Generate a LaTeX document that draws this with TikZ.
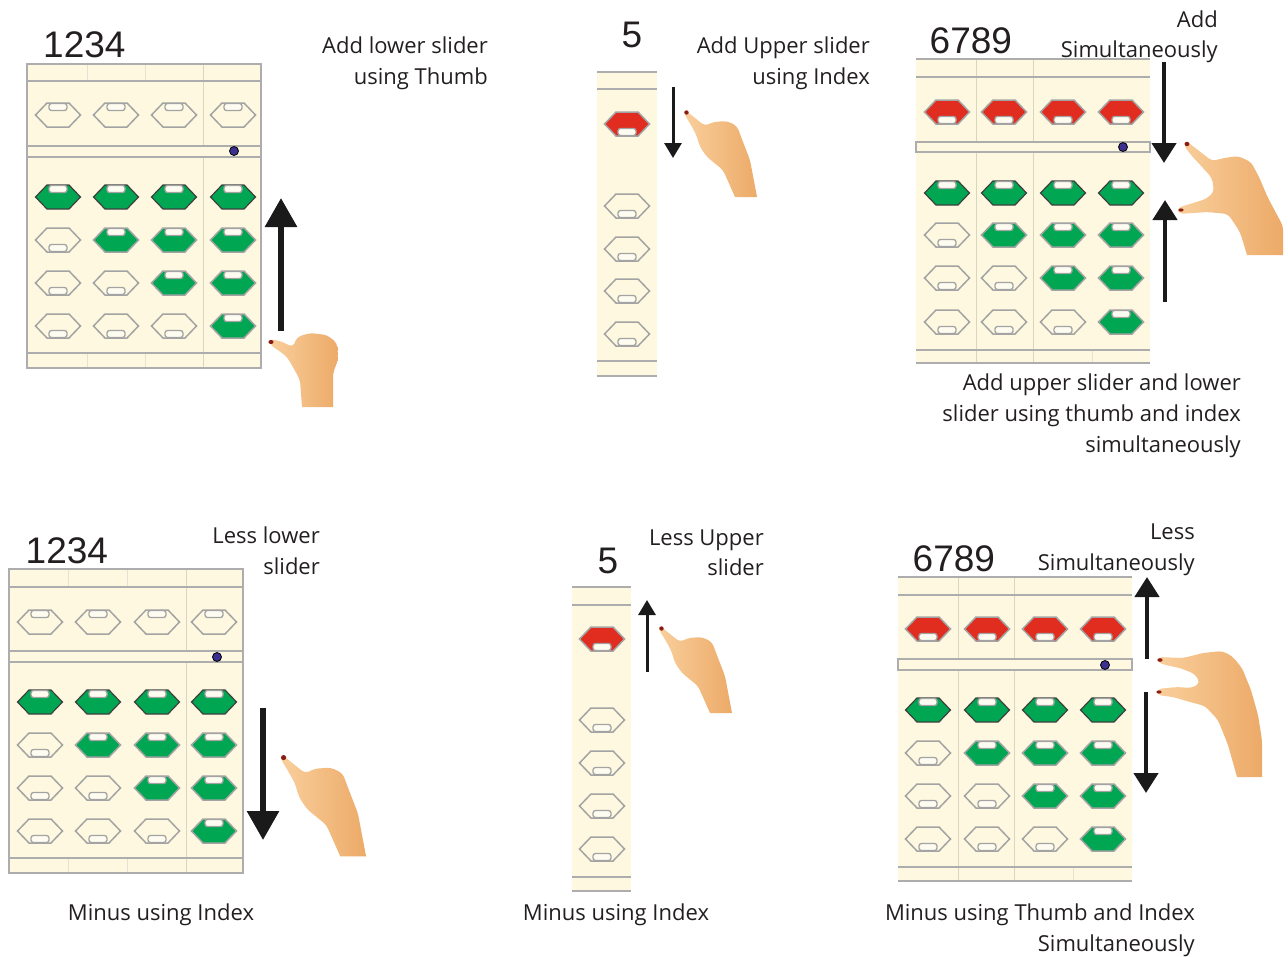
\documentclass[tikz,border=0pt]{standalone}
\usepackage{fontspec}
\setmainfont{Open Sans}
\newfontfamily\numfont{Liberation Sans}
\usetikzlibrary{arrows.meta}

\definecolor{creamc}{HTML}{FDF8DF}
\definecolor{framec}{HTML}{ADADAD}
\definecolor{divc}{HTML}{D9D6C0}
\definecolor{beadc}{HTML}{A3A3A3}
\definecolor{abgreen}{HTML}{00A651}
\definecolor{abred}{HTML}{E02D1F}
\definecolor{dotc}{HTML}{3B2F8F}
\definecolor{arrowc}{HTML}{1A1A1A}
\definecolor{skinL}{HTML}{F9CF9C}
\definecolor{skinR}{HTML}{ECAA68}
\definecolor{nailc}{HTML}{8A1C14}
\definecolor{txtc}{HTML}{231F20}

% bead with the slot at its top edge
\newcommand\abBeadT[3]{%
  \begin{scope}[shift={(#1,#2)}]
    \draw[#3] (-22.5,0) -- (-11,-12) -- (11,-12) -- (22.5,0) -- (11,12) -- (-11,12) -- cycle;
    \draw[beadslot] (-9,-11.5) rectangle (9,-4.5);
  \end{scope}}
% bead with the slot at its bottom edge
\newcommand\abBeadB[3]{%
  \begin{scope}[shift={(#1,#2)}]
    \draw[#3] (-22.5,0) -- (-11,-12) -- (11,-12) -- (22.5,0) -- (11,12) -- (-11,12) -- cycle;
    \draw[beadslot] (-9,4.5) rectangle (9,11.5);
  \end{scope}}
% lower deck showing 1,2,3,4 beads in the four columns
\newcommand\abLower[8]{%
  \foreach \c/\x in {1/#1,2/#2,3/#3,4/#4}{
    \foreach \r/\y in {1/#5,2/#6,3/#7,4/#8}{
      \ifnum\c<\r \abBeadB{\x}{\y}{beadoff}%
      \else\ifnum\r=1 \abBeadT{\x}{\y}{beadgreendk}\else\abBeadT{\x}{\y}{beadgreen}\fi\fi
    }}}
% index finger pointing up-left, tip at (#1,#2)
\newcommand\handIndex[3]{%
  \begin{scope}[shift={(#1,#2)},scale=#3]
    \path[hand] (-1,-2) -- (19,14) -- (27,10) -- (41,9) -- (51,14) -- (57,30) -- (64,48)
      [sharp corners] -- (71,85) -- (49,85) [rounded corners=4pt] -- (37,58) -- (21,45)
      -- (14,35) -- (10,22) -- (2,8) -- (-2,2) -- cycle;
    \fill[nail] (0.5,0.5) circle[radius=2.2pt];
  \end{scope}}

\begin{document}
\begin{tikzpicture}[x=1pt,y=-1pt,
  cream/.style={fill=creamc},
  frameline/.style={draw=framec, line width=1.2pt},
  divline/.style={draw=divc, line width=1pt},
  divfaint/.style={draw=divc!70, line width=0.8pt},
  beam/.style={draw=framec, fill=creamc, line width=1.2pt},
  beadoff/.style={draw=beadc, line width=1.5pt},
  beadgreen/.style={draw=beadc, fill=abgreen, line width=1.5pt},
  beadgreendk/.style={draw=black!75, fill=abgreen, line width=1.2pt},
  beadred/.style={draw=beadc, fill=abred, line width=1.5pt},
  beadslot/.style={draw=beadc, fill=white!55!creamc, line width=1.3pt, rounded corners=2.5pt},
  dot/.style={fill=dotc, draw=black, line width=0.8pt},
  hand/.style={left color=skinL, right color=skinR, rounded corners=4pt},
  nail/.style={fill=nailc},
  bigarrow/.style={draw=arrowc, line width=6pt, -{Triangle[width=31pt,length=29pt]}},
  midarrow/.style={draw=arrowc, line width=4.5pt, -{Triangle[width=24pt,length=20pt]}},
  thinarrow/.style={draw=arrowc, line width=3pt, -{Triangle[width=17pt,length=15pt]}},
  lbl/.style={font=\fontsize{22}{26}\selectfont, text=txtc, inner sep=0pt},
  num/.style={font=\numfont\fontsize{37}{44}\selectfont, text=txtc, inner sep=0pt}]
\useasboundingbox (0,0) rectangle (1288,956);

% ---------- add lower slider using thumb ----------
\fill[cream] (27,64) rectangle (261,368);
\draw[divfaint] (87,64)--(87,81) (145,64)--(145,81) (87,353)--(87,368) (145,353)--(145,368);
\draw[divline] (203,64)--(203,368);
\draw[frameline] (27,64) rectangle (261,368) (27,81)--(261,81) (27,353)--(261,353);
\draw[beam] (27,146) rectangle (261,157);
\draw[dot] (234,151) circle[radius=4.5pt];
\foreach \x in {58,116,174,233} {\abBeadT{\x}{115}{beadoff}}
\abLower{58}{116}{174}{233}{197}{240}{283}{326}
\coordinate (a1s) at (281,331); \coordinate (a1e) at (281,198);
\draw[bigarrow] (a1s) -- (a1e);
\begin{scope}[shift={(270,342)}]
  \path[hand] (0,-3) -- (10,-1) -- (23,5) -- (27,-5) -- (40,-9) -- (57,-7) -- (67,1) -- (68,18)
    -- (63,31) [sharp corners] -- (63,65) -- (32,65) [rounded corners=4pt] -- (30,38) -- (23,25)
    -- (17,15) -- (8,8) -- (0,3) -- cycle;
  \fill[nail] (1,0) ellipse[x radius=2.6pt, y radius=2pt];
\end{scope}
\node[num, anchor=base west] (n1) at (43,57) {1234};
\node[lbl, anchor=base east] (t1a) at (488,53) {Add lower slider};
\node[lbl, anchor=base east] (t1b) at (488,84) {using Thumb};

% ---------- add upper slider using index ----------
\fill[cream] (597,72) rectangle (657,376);
\draw[frameline] (597,72)--(657,72) (597,89)--(657,89) (597,361)--(657,361) (597,376)--(657,376);
\abBeadB{627}{124}{beadred}
\foreach \y in {206,249,291,334} {\abBeadB{627}{\y}{beadoff}}
\coordinate (a2s) at (673,87); \coordinate (a2e) at (673,158);
\draw[thinarrow] (a2s) -- (a2e);
\handIndex{686}{112}{1}
\node[num, anchor=base west] (n2) at (621.5,47) {5};
\node[lbl, anchor=base east] (t2a) at (870,53) {Add Upper slider};
\node[lbl, anchor=base east] (t2b) at (870,84) {using Index};

% ---------- add both sliders simultaneously ----------
\fill[cream] (916,59) rectangle (1150,363);
\draw[divline] (976,59)--(976,363) (1033,59)--(1033,363);
\draw[divfaint] (1092,350)--(1092,363);
\draw[frameline] (916,59)--(1150,59) (916,77)--(1150,77) (916,350)--(1150,350) (916,363)--(1150,363);
\draw[beam] (916,142) rectangle (1150,152);
\draw[dot] (1123,147) circle[radius=4.5pt];
\foreach \x in {947,1004,1063,1121} {\abBeadB{\x}{112}{beadred}}
\abLower{947}{1004}{1063}{1121}{193}{235}{278}{322}
\coordinate (a3s) at (1164,62); \coordinate (a3e) at (1164,163);
\draw[midarrow] (a3s) -- (a3e);
\coordinate (a4s) at (1165,302); \coordinate (a4e) at (1165,200);
\draw[midarrow] (a4s) -- (a4e);
\path[hand] (1185,140) -- (1212,161) -- (1224,158) -- (1238,156) -- (1251,162) -- (1259,177)
  -- (1268,198) -- (1283,226) [sharp corners] -- (1283,255) -- (1247,255) [rounded corners=4pt]
  -- (1240,232) -- (1228,214) -- (1207,212) -- (1179,214) -- (1177,208) -- (1206,199)
  -- (1214,192) -- (1212,178) -- (1203,168) -- (1191,155) -- (1184,146) -- cycle;
\fill[nail] (1187,144) ellipse[x radius=2.4pt, y radius=2.2pt];
\fill[nail] (1181,210) ellipse[x radius=2.6pt, y radius=1.6pt];
\node[num, anchor=base west] (n3) at (929.5,53) {6789};
\node[lbl, anchor=base east] (t3a) at (1218,27) {Add};
\node[lbl, anchor=base east] (t3b) at (1218,57) {Simultaneously};
\node[lbl, anchor=base east] (t3c) at (1241,390) {Add upper slider and lower};
\node[lbl, anchor=base east] (t3d) at (1241,421) {slider using thumb and index};
\node[lbl, anchor=base east] (t3e) at (1241,452) {simultaneously};

% ---------- less lower slider ----------
\fill[cream] (9,569) rectangle (243,873);
\draw[divfaint] (68,569)--(68,587) (127,569)--(127,587) (68,858)--(68,873) (127,858)--(127,873);
\draw[divline] (186,569)--(186,873);
\draw[frameline] (9,569) rectangle (243,873) (9,587)--(243,587) (9,858)--(243,858);
\draw[beam] (9,651) rectangle (243,662);
\draw[dot] (217,657) circle[radius=4.5pt];
\foreach \x in {40,98,157,214} {\abBeadT{\x}{622}{beadoff}}
\abLower{40}{98}{157}{214}{702}{745}{788}{831}
\coordinate (a5s) at (263,708); \coordinate (a5e) at (263,840);
\draw[bigarrow] (a5s) -- (a5e);
\handIndex{283}{757}{1.17}
\node[num, anchor=base west] (n4) at (25.5,563) {1234};
\node[lbl, anchor=base east] (t4a) at (320,543) {Less lower};
\node[lbl, anchor=base east] (t4b) at (320,574) {slider};
\node[lbl, anchor=base] (t4c) at (161,920) {Minus using Index};

% ---------- less upper slider ----------
\fill[cream] (572,587) rectangle (631,891);
\draw[frameline] (572,587)--(631,587) (572,605)--(631,605) (572,877)--(631,877) (572,891)--(631,891);
\abBeadB{602}{639}{beadred}
\foreach \y in {720,763,806,849} {\abBeadB{602}{\y}{beadoff}}
\coordinate (a6s) at (647,672); \coordinate (a6e) at (647,600);
\draw[thinarrow] (a6s) -- (a6e);
\handIndex{661}{628}{1}
\node[num, anchor=base west] (n5) at (597.5,573) {5};
\node[lbl, anchor=base east] (t5a) at (764,545) {Less Upper};
\node[lbl, anchor=base east] (t5b) at (764,575) {slider};
\node[lbl, anchor=base] (t5c) at (616,920) {Minus using Index};

% ---------- less both sliders simultaneously ----------
\fill[cream] (898,577) rectangle (1132,881);
\draw[divline] (958,577)--(958,881) (1014,577)--(1014,881);
\draw[divfaint] (1073,867)--(1073,881);
\draw[frameline] (898,577)--(1132,577) (898,595)--(1132,595) (898,867)--(1132,867) (898,881)--(1132,881);
\draw[beam] (898,659) rectangle (1132,670);
\draw[dot] (1105,665) circle[radius=4.5pt];
\foreach \x in {928,987,1045,1103} {\abBeadB{\x}{629}{beadred}}
\abLower{928}{987}{1045}{1103}{710}{753}{796}{839}
\coordinate (a7s) at (1147,659); \coordinate (a7e) at (1147,577);
\draw[midarrow] (a7s) -- (a7e);
\coordinate (a8s) at (1146,692); \coordinate (a8e) at (1146,793);
\draw[midarrow] (a8s) -- (a8e);
\path[hand] (1158,657) -- (1183,658) -- (1203,653) -- (1222,651) -- (1232,656) -- (1242,668)
  -- (1251,690) -- (1258,715) -- (1262,740) [sharp corners] -- (1262,777) -- (1237,777)
  [rounded corners=4pt] -- (1228,745) -- (1218,720) -- (1205,706) -- (1190,702) -- (1173,697)
  -- (1157,695) -- (1157,689) -- (1177,687) -- (1192,688) -- (1200,683) -- (1195,674)
  -- (1180,668) -- (1165,665) -- (1157,662) -- cycle;
\fill[nail] (1160,660) ellipse[x radius=2.6pt, y radius=1.8pt];
\fill[nail] (1159,692) ellipse[x radius=2.6pt, y radius=1.6pt];
\node[num, anchor=base west] (n6) at (912.5,571) {6789};
\node[lbl, anchor=base east] (t6a) at (1195,539) {Less};
\node[lbl, anchor=base east] (t6b) at (1195,570) {Simultaneously};
\node[lbl, anchor=base east] (t6c) at (1195,920) {Minus using Thumb and Index};
\node[lbl, anchor=base east] (t6d) at (1195,951) {Simultaneously};
\end{tikzpicture}
\end{document}
